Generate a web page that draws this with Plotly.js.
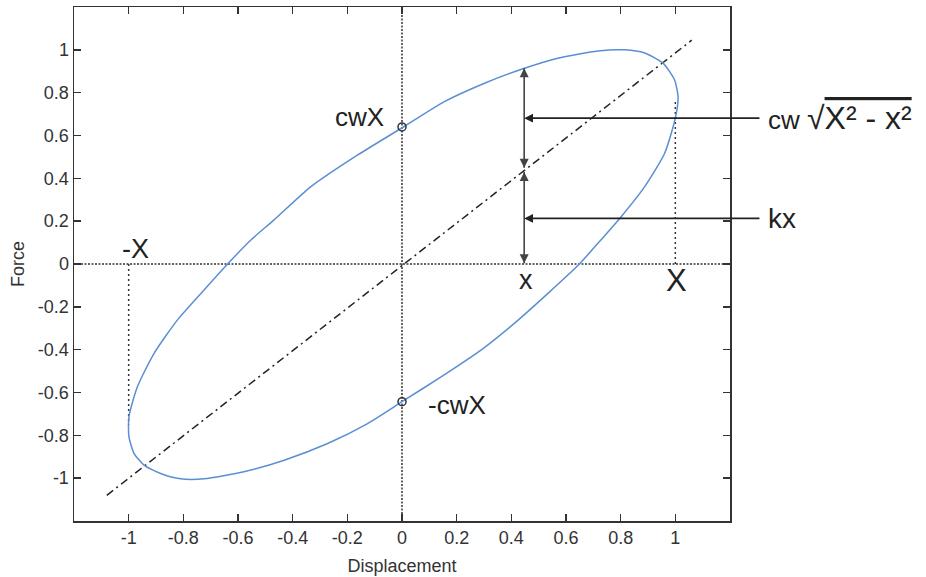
<!DOCTYPE html>
<html>
<head>
<meta charset="utf-8">
<script src="https://cdn.plot.ly/plotly-3.0.1.min.js"></script>
<style>
  html, body { margin: 0; padding: 0; background: #fff; }
  #chart { width: 926px; height: 577px; }
</style>
</head>
<body>
<div id="chart"></div>
<script>
// Hysteresis loop: force vs displacement for a viscously damped spring
const loopX = [0.008, -0.162, -0.333, -0.468, -0.553, -0.638, -0.724, -0.822, -0.907, -0.968,
  -0.999, -0.999, -0.980, -0.944, -0.883, -0.810, -0.724, -0.578, -0.431, -0.272, -0.126,
  0.0, 0.143, 0.289, 0.411, 0.534, 0.649, 0.717, 0.802, 0.888, 0.961, 1.0, 1.01, 0.997,
  0.955, 0.888, 0.814, 0.717, 0.570, 0.448, 0.302, 0.155, 0.008];
const loopF = [0.642, 0.509, 0.361, 0.206, 0.112, 0.0, -0.121, -0.262, -0.417, -0.573,
  -0.713, -0.807, -0.885, -0.939, -0.978, -1.003, -1.003, -0.970, -0.916, -0.838, -0.745,
  -0.643, -0.527, -0.402, -0.277, -0.137, 0.0, 0.097, 0.221, 0.361, 0.517, 0.681, 0.782, 0.860,
  0.938, 0.985, 1.0, 0.995, 0.961, 0.914, 0.844, 0.758, 0.642];

// Spring force line kx
const springX = [-1.08, 1.06];
const springF = [-1.08, 1.045];

// Intercepts with the force axis (±cwX)
const interceptX = [0, 0];
const interceptF = [0.64, -0.643];

// Amplitude guides at ±X
const ampGuideX = [-1, -1, null, 1, 1];
const ampGuideF = [0, -0.75, null, 0, 0.77];

// Sample displacement x and the force components there
const sampleX = 0.447;
const springAtX = 0.45;
const totalAtX = 0.914;
const dampRefF = 0.681;
const springRefF = 0.213;
const calloutX = 1.337;

// Axis ticks
const tickVals = [-1, -0.8, -0.6, -0.4, -0.2, 0, 0.2, 0.4, 0.6, 0.8, 1];
const tickText = ['-1', '-0.8', '-0.6', '-0.4', '-0.2', '0', '0.2', '0.4', '0.6', '0.8', '1'];

const axisRange = [-1.2, 1.2];
const dark = '#333';
const font = 'Liberation Sans, Arial, sans-serif';

// Two-headed vertical measuring arrow drawn as a line with arrow markers at its ends
function measure(yTop, yBottom) {
  return { x: [sampleX, sampleX], y: [yTop, yBottom], mode: 'lines+markers',
    line: { color: '#444', width: 1.6 },
    marker: { symbol: ['arrow-up', 'arrow-down'], size: 9, color: '#444' },
    hoverinfo: 'skip' };
}

const traces = [
  { x: [axisRange[0], axisRange[1]], y: [0, 0], mode: 'lines',
    line: { color: dark, width: 1.5, dash: '2px,1.5px' }, hoverinfo: 'skip' },
  { x: [0, 0], y: [axisRange[0], axisRange[1]], mode: 'lines',
    line: { color: dark, width: 1.5, dash: '2px,1.5px' }, hoverinfo: 'skip' },
  { x: ampGuideX, y: ampGuideF, mode: 'lines',
    line: { color: dark, width: 1.5, dash: '2px,3px' }, hoverinfo: 'skip' },
  { x: springX, y: springF, mode: 'lines',
    line: { color: '#222', width: 1.5, dash: '8px,4px,2px,4px' } },
  { x: loopX, y: loopF, mode: 'lines',
    line: { color: '#5a8fd2', width: 1.5, shape: 'spline', smoothing: 0.6 } },
  { x: interceptX, y: interceptF, mode: 'markers',
    marker: { symbol: 'circle-open', size: 8, color: dark, line: { width: 1.5, color: dark } } },
  measure(totalAtX, springAtX),
  measure(springAtX - 0.02, 0.003)
];

// Callout text to the right of the frame with an arrow pointing back to the measure line
function callout(text, y, size) {
  return { x: sampleX, y: y, ax: calloutX, ay: y, xref: 'x', yref: 'y', axref: 'x', ayref: 'y',
    text: text, showarrow: true, arrowhead: 2, arrowsize: 1.1, arrowwidth: 1.6,
    arrowcolor: '#222', standoff: 0, startstandoff: 8, xanchor: 'left', yanchor: 'middle',
    borderpad: 0, font: { family: font, size: size, color: '#222' } };
}

function label(text, x, y, size) {
  return { x: x, y: y, xref: 'x', yref: 'y', text: text, showarrow: false,
    xanchor: 'center', yanchor: 'middle',
    font: { family: font, size: size, color: '#222' } };
}

const annotations = [
  callout('cw <span style="font-size:32px">√<span style="text-decoration:overline">X² - x²</span></span>', dampRefF, 26),
  callout('kx', springRefF, 28),
  label('cwX', -0.155, 0.687, 26),
  label('-cwX', 0.20, -0.66, 26),
  label('-X', -0.974, 0.07, 27),
  label('x', 0.454, -0.077, 27),
  label('X', 1.004, -0.079, 31)
];

const axisCommon = {
  range: axisRange, autorange: false, showgrid: false, zeroline: false,
  showline: true, linecolor: dark, linewidth: 1.5, mirror: 'ticks',
  ticks: 'inside', ticklen: 7, tickwidth: 1.5, tickcolor: dark,
  tickmode: 'array', tickvals: tickVals, ticktext: tickText,
  tickfont: { family: font, size: 18, color: dark }
};

const layout = {
  width: 926, height: 577,
  margin: { l: 74, r: 196, t: 7, b: 56 },
  paper_bgcolor: '#fff', plot_bgcolor: '#fff',
  showlegend: false,
  xaxis: Object.assign({}, axisCommon, {
    title: { text: 'Displacement', font: { family: font, size: 18, color: dark }, standoff: 12 }
  }),
  yaxis: Object.assign({}, axisCommon, {
    title: { text: 'Force', font: { family: font, size: 18, color: dark }, standoff: 8 }
  }),
  annotations: annotations
};

Plotly.newPlot('chart', traces, layout, { displayModeBar: false, staticPlot: true });
</script>
</body>
</html>
